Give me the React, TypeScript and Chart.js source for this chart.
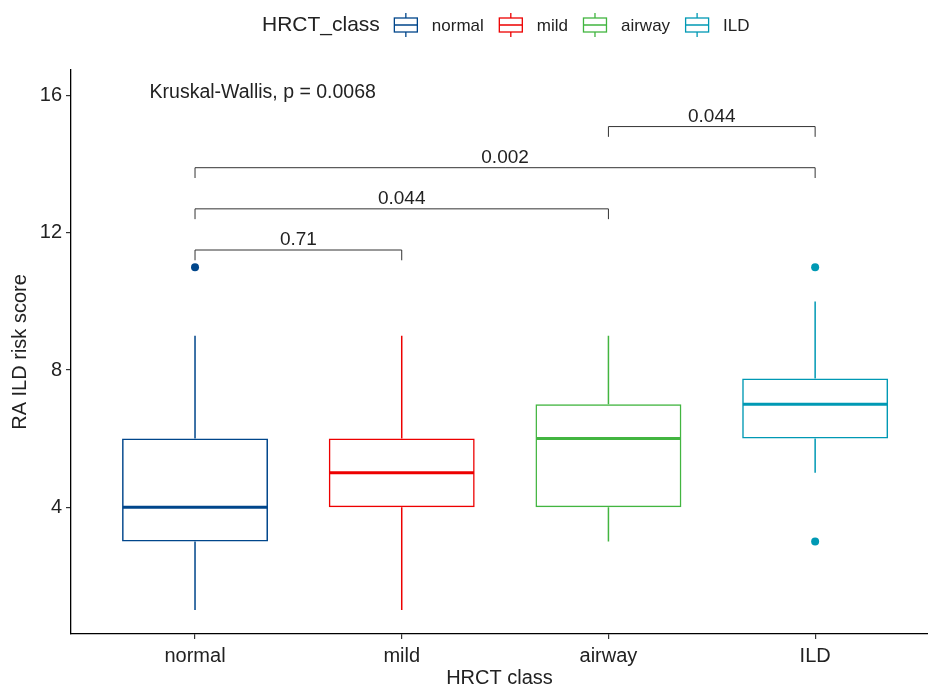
import React, { useEffect, useRef } from 'react';
import { Chart, registerables } from 'chart.js';

Chart.register(...registerables);

// ---- data ----
const categories = ['normal', 'mild', 'airway', 'ILD'];
const colors = ['#00468B', '#ED0000', '#42B540', '#0099B4'];
const whiskerLow = [1, 1, 3, 5];
const q1 = [3, 4, 4, 6];
const medians = [4, 5, 6, 7];
const q3 = [6, 6, 7, 7.75];
const whiskerHigh = [9, 9, 9, 10];
const outlierGroup = [0, 3, 3];
const outlierValues = [11, 11, 3];
const yTicks = [4, 8, 12, 16];
const bracketFrom = [0, 0, 0, 2];
const bracketTo = [1, 2, 3, 3];
const bracketY = [11.5, 12.7, 13.9, 15.1];
const bracketLabels = ['0.71', '0.044', '0.002', '0.044'];
const kruskalLabel = 'Kruskal-Wallis, p = 0.0068';
const kruskalX = -0.22;
const kruskalY = 16.1;
const legendTitle = 'HRCT_class';
const xTitle = 'HRCT class';
const yTitle = 'RA ILD risk score';

const FONT = "'Liberation Sans', Arial, Helvetica, sans-serif";
const TIP = 0.3;
const LABEL_GAP = 0.3;

const extrasPlugin = {
  id: 'boxExtras',
  afterDatasetsDraw(chart: any) {
    const { ctx } = chart;
    const x = chart.scales.x;
    const y = chart.scales.y;
    const meta = chart.getDatasetMeta(0);
    ctx.save();
    ctx.lineCap = 'butt';
    categories.forEach((_, i) => {
      const xc = x.getPixelForValue(i);
      const bar = meta.data[i];
      const half = bar ? bar.width / 2 : 70;
      ctx.strokeStyle = colors[i];
      ctx.lineWidth = 1.5;
      ctx.beginPath();
      ctx.moveTo(xc, y.getPixelForValue(q3[i]));
      ctx.lineTo(xc, y.getPixelForValue(whiskerHigh[i]));
      ctx.moveTo(xc, y.getPixelForValue(q1[i]));
      ctx.lineTo(xc, y.getPixelForValue(whiskerLow[i]));
      ctx.stroke();
      ctx.lineWidth = 3;
      ctx.beginPath();
      ctx.moveTo(xc - half + 0.75, y.getPixelForValue(medians[i]));
      ctx.lineTo(xc + half - 0.75, y.getPixelForValue(medians[i]));
      ctx.stroke();
    });
    // brackets
    ctx.strokeStyle = '#333333';
    ctx.lineWidth = 1;
    ctx.fillStyle = '#222222';
    ctx.font = `19px ${FONT}`;
    ctx.textAlign = 'center';
    ctx.textBaseline = 'middle';
    bracketY.forEach((bv, k) => {
      const x1 = x.getPixelForValue(bracketFrom[k]);
      const x2 = x.getPixelForValue(bracketTo[k]);
      const yl = y.getPixelForValue(bv);
      const yt = y.getPixelForValue(bv - TIP);
      ctx.beginPath();
      ctx.moveTo(x1, yt);
      ctx.lineTo(x1, yl);
      ctx.lineTo(x2, yl);
      ctx.lineTo(x2, yt);
      ctx.stroke();
      ctx.fillText(bracketLabels[k], (x1 + x2) / 2, y.getPixelForValue(bv + LABEL_GAP));
    });
    ctx.textAlign = 'left';
    ctx.font = `19.5px ${FONT}`;
    ctx.fillText(kruskalLabel, x.getPixelForValue(kruskalX), y.getPixelForValue(kruskalY));
    ctx.restore();
  },
  afterDraw(chart: any) {
    const { ctx } = chart;
    ctx.save();
    const cy = 25;
    let cx = 262;
    ctx.textBaseline = 'middle';
    ctx.textAlign = 'left';
    ctx.fillStyle = '#222222';
    ctx.font = `21px ${FONT}`;
    ctx.fillText(legendTitle, cx, cy);
    cx += ctx.measureText(legendTitle).width + 14;
    ctx.font = `17px ${FONT}`;
    categories.forEach((c, i) => {
      const w = 24;
      ctx.strokeStyle = colors[i];
      ctx.lineWidth = 1.3;
      ctx.strokeRect(cx + 0.5, cy - 7, w - 1, 14);
      ctx.beginPath();
      ctx.moveTo(cx + 0.5, cy);
      ctx.lineTo(cx + w - 0.5, cy);
      ctx.moveTo(cx + w / 2, cy - 12);
      ctx.lineTo(cx + w / 2, cy - 7);
      ctx.moveTo(cx + w / 2, cy + 7);
      ctx.lineTo(cx + w / 2, cy + 12);
      ctx.stroke();
      cx += w + 14;
      ctx.fillStyle = '#222222';
      ctx.fillText(c, cx, cy + 1);
      cx += ctx.measureText(c).width + 15;
    });
    ctx.restore();
  },
};

export default function App() {
  const ref = useRef<HTMLCanvasElement>(null);
  useEffect(() => {
    document.body.style.margin = '0';
    const canvas = ref.current;
    if (!canvas) return;
    const chart = new Chart(canvas, {
      type: 'bar',
      data: {
        datasets: [
          {
            type: 'bar',
            data: categories.map((_, i) => ({ x: i, y: [q1[i], q3[i]] })) as any,
            backgroundColor: 'rgba(255,255,255,0)',
            borderColor: colors,
            borderWidth: 1.5,
            borderSkipped: false,
            categoryPercentage: 1,
            barPercentage: 0.706,
          } as any,
          {
            type: 'scatter',
            data: outlierGroup.map((g, i) => ({ x: g, y: outlierValues[i] })),
            pointBackgroundColor: outlierGroup.map((g) => colors[g]),
            pointBorderWidth: 0,
            pointRadius: 4,
            showLine: false,
          } as any,
        ],
      },
      options: {
        animation: false,
        responsive: false,
        events: [],
        layout: { autoPadding: false, padding: { top: 70, left: 0, right: 0, bottom: 0 } },
        plugins: { legend: { display: false }, tooltip: { enabled: false } },
        scales: {
          x: {
            type: 'linear',
            min: -0.6,
            max: 3.546,
            offset: false,
            afterBuildTicks: (s: any) => {
              s.ticks = categories.map((_, i) => ({ value: i }));
            },
            afterFit: (s: any) => {
              s.height = 54;
            },
            ticks: {
              callback: (v: any) => categories[Number(v)] ?? '',
              color: '#222222',
              font: { family: FONT, size: 20 },
              padding: 5,
              maxRotation: 0,
              autoSkip: false,
            },
            grid: { display: true, offset: false, drawOnChartArea: false, drawTicks: true, tickLength: 5, color: '#333333', lineWidth: 1.2 },
            border: { display: true, color: '#000000', width: 1.3 },
            title: { display: true, text: xTitle, color: '#222222', font: { family: FONT, size: 20, lineHeight: 1 }, padding: { top: 0, bottom: 0 } },
          },
          y: {
            type: 'linear',
            min: 0.3,
            max: 16.75,
            afterBuildTicks: (s: any) => {
              s.ticks = yTicks.map((v) => ({ value: v }));
            },
            afterFit: (s: any) => {
              s.width = 71;
            },
            ticks: {
              color: '#222222',
              font: { family: FONT, size: 20 },
              padding: 4,
            },
            grid: { display: true, drawOnChartArea: false, drawTicks: true, tickLength: 5, color: '#333333', lineWidth: 1.2 },
            border: { display: true, color: '#000000', width: 1.3 },
            title: { display: true, text: yTitle, color: '#222222', font: { family: FONT, size: 20, lineHeight: 1.2 }, padding: { top: 8, bottom: 0 } },
          },
        },
      },
      plugins: [extrasPlugin],
    } as any);
    return () => chart.destroy();
  }, []);
  return (
    <div style={{ width: 928, height: 688, background: '#ffffff' }}>
      <canvas ref={ref} width={928} height={688} />
    </div>
  );
}
